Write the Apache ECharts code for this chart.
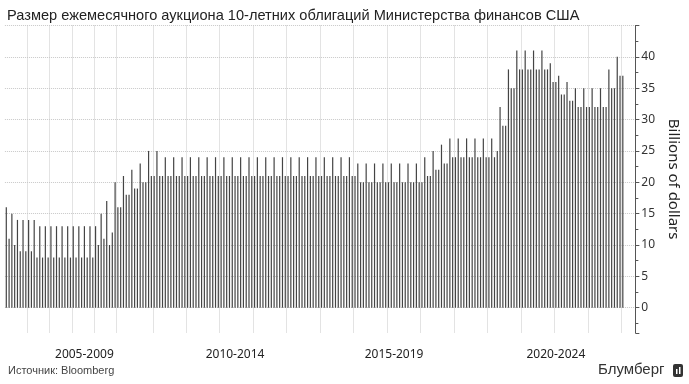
<!DOCTYPE html>
<html><head><meta charset="utf-8">
<script src="https://cdn.jsdelivr.net/npm/echarts@6/dist/echarts.min.js"></script>
<style>html,body{margin:0;padding:0;background:#fff}#c{width:689px;height:384px}</style>
</head><body><div id="c"></div>
<script>
// Auctions per year (one bar per auction); trailing empty slots before the axis
const auctionsPerYear = [[2004,8],[2005,8],[2006,8],[2007,8],[2008,8],[2009,12],[2010,12],[2011,12],[2012,12],[2013,12],[2014,12],[2015,12],[2016,12],[2017,12],[2018,12],[2019,12],[2020,12],[2021,12],[2022,12],[2023,12],[2024,6]];

// Auction sizes, billions of dollars
const sizes2004 = [16,11,15,10,14,9,14,9];
const sizes2005 = [14,9,14,8,13,8,13,8];
const sizes2006 = [13,8,13,8,13,8,13,8];
const sizes2007 = [13,8,13,8,13,8,13,8];
const sizes2008 = [13,10,15,11,17,10,12,20];
const sizes2009 = [16,16,21,18,18,22,19,19,23,20,20,25];
const sizes2010 = [21,21,25,21,21,24,21,21,24,21,21,24];
const sizes2011 = [21,21,24,21,21,24,21,21,24,21,21,24];
const sizes2012 = [21,21,24,21,21,24,21,21,24,21,21,24];
const sizes2013 = [21,21,24,21,21,24,21,21,24,21,21,24];
const sizes2014 = [21,21,24,21,21,24,21,21,24,21,21,24];
const sizes2015 = [21,21,24,21,21,24,21,21,24,21,21,24];
const sizes2016 = [21,21,23,20,20,23,20,20,23,20,20,23];
const sizes2017 = [20,20,23,20,20,23,20,20,23,20,20,23];
const sizes2018 = [20,20,24,21,21,25,22,22,26,23,23,27];
const sizes2019 = [24,24,27,24,24,27,24,24,27,24,24,27];
const sizes2020 = [24,24,27,24,25,32,29,29,38,35,35,41];
const sizes2021 = [38,38,41,38,38,41,38,38,41,38,38,39];
const sizes2022 = [36,36,37,34,34,36,33,33,35,32,32,35];
const sizes2023 = [32,32,35,32,32,35,32,32,38,35,35,40];
const sizes2024 = [37,37];

// Tick labels on the bottom axis and the bar index they sit on
const periodLabels = ['2005-2009','2010-2014','2015-2019','2020-2024'];
const periodLabelIndex = [28, 82, 139, 197];
// First bar of each year (vertical dotted gridlines sit just before these bars)
const yearStartIndex = [8,16,24,32,40,53,65,77,89,101,113,125,137,149,161,173,185,197,209,221];
const yTickLabels = [0,5,10,15,20,25,30,35,40];

const sizes = [].concat(sizes2004,sizes2005,sizes2006,sizes2007,sizes2008,sizes2009,sizes2010,sizes2011,sizes2012,sizes2013,sizes2014,sizes2015,sizes2016,sizes2017,sizes2018,sizes2019,sizes2020,sizes2021,sizes2022,sizes2023,sizes2024);
const categories = [];
auctionsPerYear.forEach(([y,n]) => { for (let k=1;k<=n;k++) categories.push(y+'#'+k); });

const chart = echarts.init(document.getElementById('c'), null, {renderer:'canvas'});
const band = 2.8086;
const gridStyle = {color:'#c8c8c8', type:'dotted', width:1};
chart.setOption({
  animation:false,
  backgroundColor:'#fff',
  title:{text:'Размер ежемесячного аукциона 10-летних облигаций Министерства финансов США', left:2, top:3,
    textStyle:{fontFamily:'Liberation Sans, Arial, sans-serif', fontSize:14.6, fontWeight:'normal', color:'#222'}},
  grid:{left:4.9, top:25.5, width: band*categories.length, height:307.3, containLabel:false},
  xAxis:[{type:'category', data:categories, boundaryGap:true,
    axisLine:{show:false},
    axisTick:{show:true, interval:(i)=>yearStartIndex.indexOf(i)>=0, length:0, lineStyle:{color:'#c8c8c8'}},
    axisLabel:{interval:(i)=>periodLabelIndex.indexOf(i)>=0,
      formatter:(v,i)=>{const k=periodLabelIndex.indexOf(i);return k>=0?periodLabels[k]:'';},
      margin:16, fontSize:12, color:'#222', fontFamily:'Noto Sans, sans-serif'},
    splitLine:{show:true, interval:(i)=>yearStartIndex.indexOf(i)>=0, lineStyle:gridStyle}
  }],
  yAxis:{type:'value', position:'right', min:-4, max:45, minInterval:5, maxInterval:5, splitNumber:10,
    axisLine:{show:true, lineStyle:{color:'#555', width:1}},
    axisTick:{show:true, length:4, lineStyle:{color:'#555'}},
    minorTick:{show:true, splitNumber:2, length:3, lineStyle:{color:'#555'}},
    axisLabel:{formatter:(v)=> yTickLabels.indexOf(v)>=0 ? String(v) : '', color:'#333', fontSize:12, margin:6, fontFamily:'Noto Sans, sans-serif'},
    splitLine:{show:true, showMinLine:false, lineStyle:gridStyle},
    name:'Billions of dollars', nameLocation:'middle', nameRotate:-90, nameGap:29,
    nameTextStyle:{fontSize:15, color:'#222', fontFamily:'Noto Sans, sans-serif'}
  },
  series:[{type:'bar', data:sizes, barWidth:1.2, itemStyle:{color:'#444'}, silent:true}],
  graphic:[
    {type:'text', left:8, top:365, style:{text:'Источник: Bloomberg', fontSize:11, fill:'#444', fontFamily:'Liberation Sans, Arial, sans-serif'}},
    {type:'text', left:598, top:362, style:{text:'Блумберг', fontSize:15, fill:'#333', fontFamily:'Liberation Sans, Arial, sans-serif'}},
    {type:'rect', left:673, top:364, shape:{width:10, height:13, r:2}, style:{fill:'#333'}},
    {type:'rect', left:676, top:369, shape:{width:1.5, height:5}, style:{fill:'#fff'}},
    {type:'rect', left:679, top:367, shape:{width:1.5, height:7}, style:{fill:'#fff'}}
  ]
});
</script></body></html>
